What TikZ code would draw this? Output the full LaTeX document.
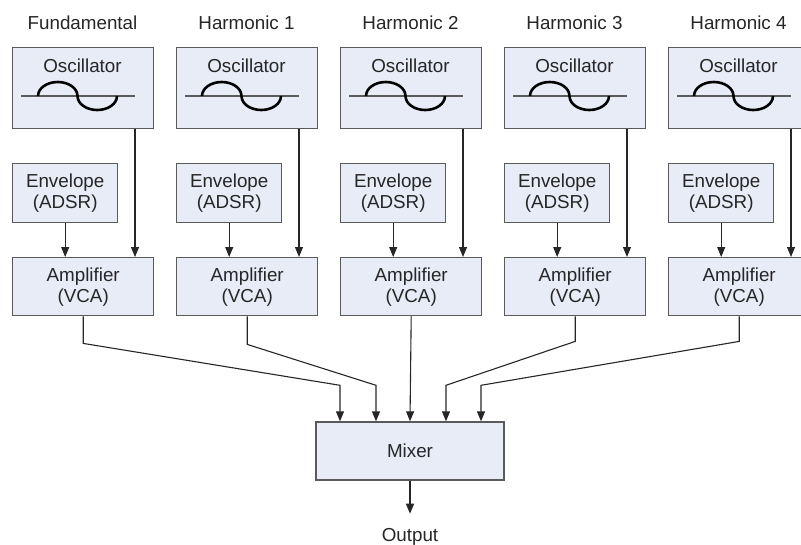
\documentclass[tikz,border=0pt]{standalone}
\usepackage{fontspec}
\setmainfont{Liberation Sans}
\usetikzlibrary{arrows.meta}
\definecolor{boxfill}{HTML}{E8ECF6}
\definecolor{boxline}{HTML}{5A5A5A}
\definecolor{ink}{HTML}{262626}

\begin{document}
\begin{tikzpicture}[x=1pt, y=-1pt,
  font=\fontsize{18.8}{21}\selectfont, text=ink,
  blockbox/.style={draw=boxline, line width=1.4pt, fill=boxfill,
    inner sep=0pt, anchor=north west, align=center},
  lbl/.style={inner sep=0pt, align=center},
  link/.style={draw=ink, line width=1.1pt, -{Triangle[length=10pt,width=8pt]}},
  axisline/.style={draw=boxline, line width=1.1pt},
  wave/.style={draw=black, line width=2.6pt}]
\useasboundingbox (0,0) rectangle (801,544);

% one column per partial: oscillator, envelope and amplifier
\foreach \i/\L/\title in {0/12/Fundamental, 1/176/Harmonic 1, 2/340/Harmonic 2,
                          3/504/Harmonic 3, 4/668/Harmonic 4} {
  \node[lbl] (title\i) at (\L+70.5, 23) {\title};
  \node[blockbox, minimum width=141pt, minimum height=81pt] (osc\i) at (\L, 47) {};
  \node[lbl] (osclbl\i) at (\L+70.5, 66) {Oscillator};
  \draw[axisline] (\L+9, 96) -- (\L+123, 96);
  % one period of the wave, drawn as two half ellipses
  \draw[wave] (\L+26, 96)
    arc[start angle=180, end angle=0, x radius=19.75pt, y radius=14pt]
    arc[start angle=180, end angle=360, x radius=19.75pt, y radius=14pt];
  \node[blockbox, minimum width=105pt, minimum height=59pt] (env\i) at (\L, 163)
    {Envelope\\(ADSR)};
  \node[blockbox, minimum width=141pt, minimum height=58pt] (amp\i) at (\L, 257)
    {Amplifier\\(VCA)};
  \draw[link] ([xshift=123pt]osc\i.south west) -- ([xshift=123pt]amp\i.north west);
  \draw[link] (env\i.south) -- (env\i.south |- amp\i.north);
}

% mixer and its inputs
\node[blockbox, anchor=center, minimum width=188pt, minimum height=58pt] (mix) at (410, 451) {Mixer};
\coordinate (in0) at ([xshift=-70pt]mix.north);
\coordinate (in1) at ([xshift=-34pt]mix.north);
\coordinate (in2) at (mix.north);
\coordinate (in3) at ([xshift=36pt]mix.north);
\coordinate (in4) at ([xshift=71pt]mix.north);

\draw[link] (amp0.south) -- ++(0,27) -- ([yshift=36pt]in0) -- (in0);
\draw[link] (amp1.south) -- ++(0,28) -- ([yshift=36pt]in1) -- (in1);
\draw[link] (amp2.south) -- (in2);
\draw[link] (amp3.south) -- ++(0,25) -- ([yshift=36pt]in3) -- (in3);
\draw[link] (amp4.south) -- ++(0,25) -- ([yshift=36pt]in4) -- (in4);

% output
\coordinate (outtip) at ([yshift=-33pt]mix.south);
\draw[link] (mix.south) -- (outtip);
\node[lbl] (outlbl) at (410, 537) {Output};
\end{tikzpicture}
\end{document}
